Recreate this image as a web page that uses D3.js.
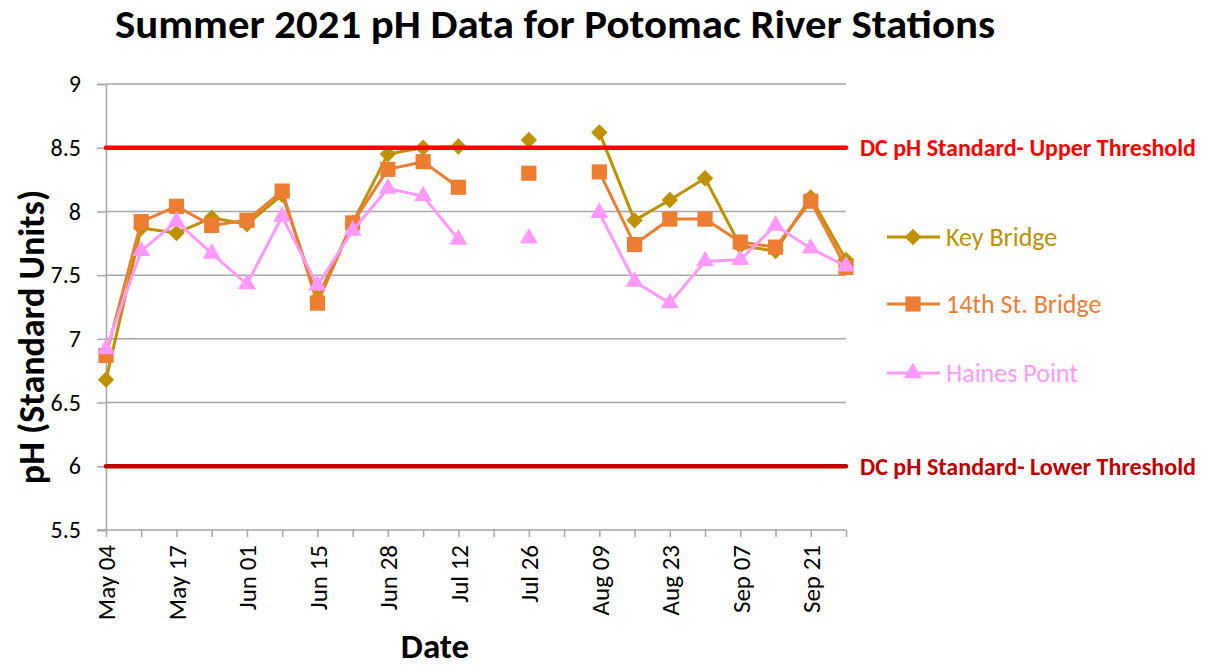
<!DOCTYPE html>
<html>
<head>
<meta charset="utf-8">
<script src="https://cdn.jsdelivr.net/npm/d3@7"></script>
<style>
  body { margin: 0; background: #fff; }
  svg { font-family: Carlito, Lato, "Open Sans", sans-serif; }
</style>
</head>
<body>
<div id="chart"></div>
<script>
// sampling dates (only every other one is labelled on the axis)
var dates = ["May 04", "May 10", "May 17", "May 24", "Jun 01", "Jun 07", "Jun 15", "Jun 21",
  "Jun 28", "Jul 06", "Jul 12", "Jul 19", "Jul 26", "Aug 02", "Aug 09", "Aug 16",
  "Aug 23", "Aug 30", "Sep 07", "Sep 13", "Sep 21", "Sep 27"];

var keyBridge = [6.68, 7.87, 7.83, 7.95, 7.90, 8.13, 7.32, 7.91, 8.45, 8.50, 8.51, null,
  8.56, null, 8.62, 7.93, 8.09, 8.26, 7.73, 7.69, 8.11, 7.62];
var fourteenth = [6.87, 7.92, 8.04, 7.89, 7.93, 8.16, 7.28, 7.91, 8.33, 8.39, 8.19, null,
  8.30, null, 8.31, 7.74, 7.94, 7.94, 7.76, 7.72, 8.08, 7.56];
var hainesPoint = [6.92, 7.69, 7.92, 7.67, 7.43, 7.96, 7.42, 7.85, 8.18, 8.12, 7.78, null,
  7.79, null, 7.99, 7.45, 7.28, 7.61, 7.62, 7.89, 7.71, 7.57];

var yTicks = [5.5, 6, 6.5, 7, 7.5, 8, 8.5, 9];
var upperThreshold = 8.5;
var lowerThreshold = 6;

// rotate = 45 turns the square into Excel's even diamond
var series = [
  { name: "Key Bridge", values: keyBridge, color: "#bf9000", marker: d3.symbolSquare, size: 135, rotate: 45, legendY: 237 },
  { name: "14th St. Bridge", values: fourteenth, color: "#ed7d31", marker: d3.symbolSquare, size: 230, rotate: 0, legendY: 304 },
  { name: "Haines Point", values: hainesPoint, color: "#ff99ff", marker: d3.symbolTriangle, size: 140, rotate: 0, legendY: 373 }
];

var width = 1209, height = 671;
var plotLeft = 106, plotRight = 846, plotTop = 84, plotBottom = 530;
var tickFont = "Carlito, Lato, 'Open Sans', sans-serif";

var svg = d3.select("#chart").append("svg")
  .attr("width", width)
  .attr("height", height);

var x = d3.scalePoint().domain(dates).range([plotLeft, plotRight]);
var y = d3.scaleLinear().domain([5.5, 9]).range([plotBottom, plotTop]);

// title
svg.append("text")
  .attr("x", 555).attr("y", 38)
  .attr("text-anchor", "middle")
  .style("font-size", "41px").style("font-weight", "bold")
  .attr("textLength", 880).attr("lengthAdjust", "spacingAndGlyphs")
  .text("Summer 2021 pH Data for Potomac River Stations");

// gridlines
svg.append("g").selectAll("line")
  .data(yTicks.slice(1))
  .enter().append("line")
  .attr("x1", plotLeft).attr("x2", plotRight)
  .attr("y1", function(d) { return y(d); })
  .attr("y2", function(d) { return y(d); })
  .attr("stroke", "#a6a6a6").attr("stroke-width", 1.5);

// y axis
var yAxis = svg.append("g")
  .attr("transform", "translate(" + plotLeft + ",0)")
  .call(d3.axisLeft(y).tickValues(yTicks).tickSize(9).tickPadding(16)
    .tickFormat(function(d) { return d; }));
yAxis.select(".domain").attr("stroke", "#a6a6a6").attr("stroke-width", 1.5);
yAxis.selectAll(".tick line").attr("stroke", "#a6a6a6").attr("stroke-width", 1.5);
yAxis.selectAll("text").style("font-size", "24px").attr("fill", "#000")
  .style("font-family", tickFont);

// x axis
var xAxis = svg.append("g")
  .attr("transform", "translate(0," + plotBottom + ")")
  .call(d3.axisBottom(x).tickSize(7).tickSizeOuter(0));
xAxis.select(".domain").attr("stroke", "#a6a6a6").attr("stroke-width", 1.5)
  .attr("d", "M" + (plotLeft - 9) + ",0H" + plotRight);
xAxis.selectAll(".tick line").attr("stroke", "#a6a6a6").attr("stroke-width", 1.5);
xAxis.selectAll("text")
  .style("font-size", "25px").attr("fill", "#000")
  .style("font-family", tickFont)
  .attr("transform", "rotate(-90)")
  .attr("text-anchor", "end")
  .attr("x", -15).attr("y", 0).attr("dy", "0.35em")
  .text(function(d, i) { return i % 2 === 0 ? d : ""; });

// axis titles
svg.append("text")
  .attr("transform", "translate(44,337) rotate(-90)")
  .attr("text-anchor", "middle")
  .style("font-size", "36px").style("font-weight", "bold")
  .text("pH (Standard Units)");

svg.append("text")
  .attr("x", 435).attr("y", 658)
  .attr("text-anchor", "middle")
  .style("font-size", "35px").style("font-weight", "bold")
  .text("Date");

// series
var line = d3.line()
  .defined(function(d) { return d !== null; })
  .x(function(d, i) { return x(dates[i]); })
  .y(function(d) { return y(d); });

series.forEach(function(s) {
  var g = svg.append("g");
  var symbol = d3.symbol().type(s.marker).size(s.size);
  g.append("path")
    .datum(s.values)
    .attr("d", line)
    .attr("fill", "none")
    .attr("stroke", s.color)
    .attr("stroke-width", 3)
    .attr("stroke-linejoin", "round");
  g.selectAll("path.marker")
    .data(s.values.map(function(v, i) { return { v: v, date: dates[i] }; })
      .filter(function(d) { return d.v !== null; }))
    .enter().append("path")
    .attr("class", "marker")
    .attr("d", symbol)
    .attr("transform", function(d) {
      return "translate(" + x(d.date) + "," + y(d.v) + ") rotate(" + s.rotate + ")";
    })
    .attr("fill", s.color);

  // legend
  g.append("line")
    .attr("x1", 887).attr("x2", 940)
    .attr("y1", s.legendY).attr("y2", s.legendY)
    .attr("stroke", s.color).attr("stroke-width", 3);
  g.append("path")
    .attr("d", symbol)
    .attr("transform", "translate(913," + s.legendY + ") rotate(" + s.rotate + ")")
    .attr("fill", s.color);
  g.append("text")
    .attr("x", 946).attr("y", s.legendY).attr("dy", "0.35em")
    .style("font-size", "26px")
    .attr("fill", s.color)
    .text(s.name);
});

// thresholds
var thresholds = [
  { value: upperThreshold, color: "#ff0000", label: "DC pH Standard- Upper Threshold" },
  { value: lowerThreshold, color: "#c00000", label: "DC pH Standard- Lower Threshold" }
];
thresholds.forEach(function(t) {
  svg.append("line")
    .attr("x1", plotLeft).attr("x2", plotRight)
    .attr("y1", y(t.value)).attr("y2", y(t.value))
    .attr("stroke", t.color).attr("stroke-width", 4.5)
    .attr("stroke-linecap", "round");
  svg.append("text")
    .attr("x", 860).attr("y", y(t.value)).attr("dy", "0.35em")
    .style("font-size", "24px").style("font-weight", "bold")
    .attr("fill", t.color)
    .attr("textLength", 336).attr("lengthAdjust", "spacingAndGlyphs")
    .text(t.label);
});
</script>
</body>
</html>
